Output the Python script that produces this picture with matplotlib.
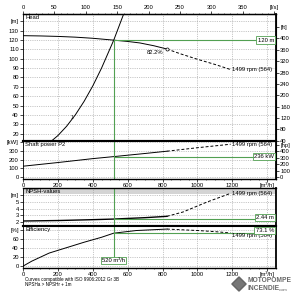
import matplotlib.pyplot as plt
from matplotlib.patches import Rectangle, RegularPolygon
from matplotlib.ticker import MultipleLocator

plt.rcParams['font.family'] = ['Liberation Sans', 'DejaVu Sans']

# values, flow in m3/h
q_head = [0, 100, 200, 300, 400, 520, 600, 670, 750, 825]
h_head = [124.8, 124.5, 124, 123.2, 122, 120, 118.6, 117, 114, 110.5]
q_head_ext = [825, 900, 1000, 1100, 1190]
h_head_ext = [110.5, 105.5, 99.5, 94, 88.5]

q_sys = [160, 200, 250, 300, 350, 400, 450, 520, 585]
h_sys = [11.5, 17.8, 27.8, 40, 54.4, 71, 90, 120, 152]

q_pow = [0, 200, 400, 520, 700, 825]
p_pow = [126, 168, 213, 236, 272, 298]
q_pow_ext = [825, 1000, 1190]
p_pow_ext = [298, 338, 378]

q_npsh = [0, 200, 400, 520, 700, 825]
n_npsh = [2.15, 2.22, 2.35, 2.44, 2.65, 2.85]
q_npsh_ext = [825, 917, 1055, 1190]
n_npsh_ext = [2.85, 3.5, 5.0, 6.3]

q_eff = [0, 50, 150, 250, 350, 450, 520, 650, 825]
e_eff = [0, 11, 29, 41, 53, 64, 73.1, 79, 82.2]
q_eff_ext = [825, 1000, 1100, 1190]
e_eff_ext = [82.2, 79, 76.5, 73.5]

duty_q = 520
duty_h = 120
duty_p = 236
duty_npsh = 2.44
duty_eff = 73.1
bep_q, bep_h, bep_eff = 825, 110.5, 82.2
speed_label = "1499 rpm (564)"

GREEN = '#52a052'
GRID = '#9a9a9a'
FS = 4.2
QMAX = 1450

W, HPX = 300, 297


def rect(top, bottom, left=23, right=276):
    return [left / W, 1 - bottom / HPX, (right - left) / W, (bottom - top) / HPX]


fig = plt.figure(figsize=(3.0, 2.97), dpi=100)
ax_h = fig.add_axes(rect(14, 141))
ax_p = fig.add_axes(rect(141, 178.5))
ax_n = fig.add_axes(rect(188, 226))
ax_e = fig.add_axes(rect(226, 267.5))


def style(ax, ylim, yticks, ylabels, xlabels):
    ax.set_xlim(0, QMAX)
    ax.set_ylim(*ylim)
    ax.set_yticks(yticks)
    ax.set_yticklabels(ylabels)
    ax.set_xticks(range(0, 1401, 200))
    ax.set_xticklabels([str(v) for v in range(0, 1201, 200)] + ['[m³/h]'])
    ax.xaxis.set_minor_locator(MultipleLocator(50))
    ax.grid(True, which='major', color=GRID, ls=(0, (2, 2)), lw=0.4)
    ax.tick_params(labelsize=FS, length=2, width=0.5, pad=1)
    ax.tick_params(which='minor', length=1, width=0.4)
    ax.tick_params(axis='x', labelbottom=xlabels)
    for s in ax.spines.values():
        s.set_linewidth(0.6)
    ax.spines['right'].set_linewidth(1.3)


style(ax_h, (12, 148), range(20, 141, 10),
      [str(v) for v in range(20, 131, 10)] + ['[m]'], False)
style(ax_p, (-15, 415), range(0, 401, 100), ['0', '100', '200', '300', '[kW]'], True)
style(ax_n, (1.4, 7.1), [2, 3, 4, 5, 6], ['2', '3', '4', '5', '[m]'], False)
style(ax_e, (-3, 89), [0, 20, 40, 60, 80], ['0', '20', '40', '60', '[%]'], True)

ax_h.spines['top'].set_linewidth(1.0)
ax_h.spines['bottom'].set_linewidth(1.5)
ax_p.spines['top'].set_linewidth(1.5)
ax_p.spines['bottom'].set_linewidth(1.0)
ax_n.spines['top'].set_linewidth(1.0)
ax_n.spines['bottom'].set_linewidth(1.5)
ax_e.spines['top'].set_linewidth(1.5)
ax_e.spines['bottom'].set_linewidth(1.0)

# secondary scales
sec_ft = ax_h.secondary_yaxis('right', functions=(lambda m: m * 3.2808, lambda f: f / 3.2808))
sec_ft.set_yticks(range(40, 441, 40), labels=[str(v) for v in range(40, 401, 40)] + ['[ft]'])
sec_ft.tick_params(labelsize=FS, length=2, width=0.5, pad=1)

sec_ls = ax_h.secondary_xaxis('top', functions=(lambda q: q / 3.6, lambda l: l * 3.6))
sec_ls.set_xticks(range(0, 401, 50), labels=[str(v) for v in range(0, 351, 50)] + ['[l/s]'])
sec_ls.xaxis.set_minor_locator(MultipleLocator(10))
sec_ls.tick_params(labelsize=FS, length=2, width=0.5, pad=1)
sec_ls.tick_params(which='minor', length=1, width=0.4)
ax_h.tick_params(axis='x', bottom=False, which='both')

sec_hp = ax_p.secondary_yaxis('right', functions=(lambda kw: kw / 0.7457, lambda hp: hp * 0.7457))
sec_hp.set_yticks(range(0, 501, 100), labels=['0', '100', '200', '300', '400', '[hp]'])
sec_hp.tick_params(labelsize=FS, length=2, width=0.5, pad=1)

# curves
lw = 0.7
ax_h.plot(q_head, h_head, color='black', lw=lw)
ax_h.plot(q_head_ext, h_head_ext, color='black', lw=lw, ls=(0, (3, 2)))
ax_h.plot(q_sys, h_sys, color='black', lw=lw)
ax_h.plot([bep_q], [bep_h], marker='o', ms=2.2, mfc='white', mec='black', mew=0.5)
ax_h.text(bep_q - 20, bep_h - 1.5, f"{bep_eff}%", fontsize=FS, ha='right', va='top')
ax_h.text(275, 37, '1', fontsize=3.5, ha='left', va='center')

ax_p.plot(q_pow, p_pow, color='black', lw=lw)
ax_p.plot(q_pow_ext, p_pow_ext, color='black', lw=lw, ls=(0, (3, 2)))

ax_n.plot(q_npsh, n_npsh, color='black', lw=1.0)
ax_n.plot(q_npsh_ext, n_npsh_ext, color='black', lw=lw, ls=(0, (3, 2)))

ax_e.plot(q_eff, e_eff, color='black', lw=lw)
ax_e.plot(q_eff_ext, e_eff_ext, color='black', lw=lw, ls=(0, (3, 2)))

# speed labels at the end of each curve
for ax, yv, va in [(ax_h, h_head_ext[-1], 'center'), (ax_p, p_pow_ext[-1], 'center'),
                   (ax_n, n_npsh_ext[-1], 'center'), (ax_e, e_eff_ext[-1] + 1, 'top')]:
    ax.text(q_head_ext[-1] + 8, yv, speed_label, fontsize=FS, ha='left', va=va)

# duty point lines and boxes
box = dict(boxstyle='square,pad=0.2', fc='white', ec=GREEN, lw=0.6)
ax_h.plot([duty_q, QMAX], [duty_h, duty_h], color=GREEN, lw=0.8)
ax_h.plot([duty_q, duty_q], [12, duty_h], color=GREEN, lw=0.8)
ax_h.text(QMAX - 12, duty_h, f"{duty_h} m", fontsize=FS, ha='right', va='center', bbox=box)

ax_p.axvline(duty_q, color=GREEN, lw=0.8)
ax_p.plot([duty_q, QMAX], [duty_p, duty_p], color=GREEN, lw=0.8)
ax_p.text(QMAX - 12, duty_p, f"{duty_p} kW", fontsize=FS, ha='right', va='center', bbox=box)

ax_n.axvline(duty_q, color=GREEN, lw=0.8)
ax_n.plot([duty_q, QMAX], [duty_npsh, duty_npsh], color=GREEN, lw=0.8)
ax_n.text(QMAX - 12, duty_npsh + 0.2, f"{duty_npsh} m", fontsize=FS, ha='right', va='center', bbox=box)

ax_e.plot([duty_q, duty_q], [13, 89], color=GREEN, lw=0.8)
ax_e.plot([duty_q, QMAX], [duty_eff, duty_eff], color=GREEN, lw=0.8)
ax_e.text(QMAX - 12, duty_eff + 6, f"{duty_eff} %", fontsize=FS, ha='right', va='center', bbox=box)
ax_e.text(duty_q, 13, f"{duty_q} m³/h", fontsize=FS, ha='center', va='center', bbox=box)

# panel titles
ax_h.text(0.008, 0.995, 'Head', transform=ax_h.transAxes, fontsize=FS, va='top')
ax_p.text(0.008, 0.97, 'Shaft power P2', transform=ax_p.transAxes, fontsize=FS, va='top')
ax_n.add_patch(Rectangle((0, 0.84), 1, 0.16, transform=ax_n.transAxes, color='#d4d4d4', lw=0, zorder=0))
ax_n.text(0.008, 0.97, 'NPSH-values', transform=ax_n.transAxes, fontsize=FS, va='top')
ax_e.text(0.008, 0.97, 'Efficiency', transform=ax_e.transAxes, fontsize=FS, va='top')

# footer
fig.text(25 / W, 1 - 279 / HPX, 'Curves compatible with ISO 9906:2012 Gr 3B', fontsize=3.3, va='center')
fig.text(25 / W, 1 - 284 / HPX, 'NPSHa > NPSHr + 1m', fontsize=3.3, va='center')

# watermark
fig.patches.append(RegularPolygon((239 / W, 1 - 284 / HPX), 4, radius=0.024, orientation=0,
                                  transform=fig.transFigure, color='#555555', alpha=0.8))
fig.text(248 / W, 1 - 280 / HPX, 'MOTOPOMPE', fontsize=4.8, color='#666666', va='center', weight='bold')
fig.text(248 / W, 1 - 289 / HPX, 'INCENDIE', fontsize=4.8, color='#666666', va='center', weight='bold')
fig.text(279 / W, 1 - 290 / HPX, '.com', fontsize=3, color='#666666', va='center')

fig.savefig('out.png', dpi=100)
